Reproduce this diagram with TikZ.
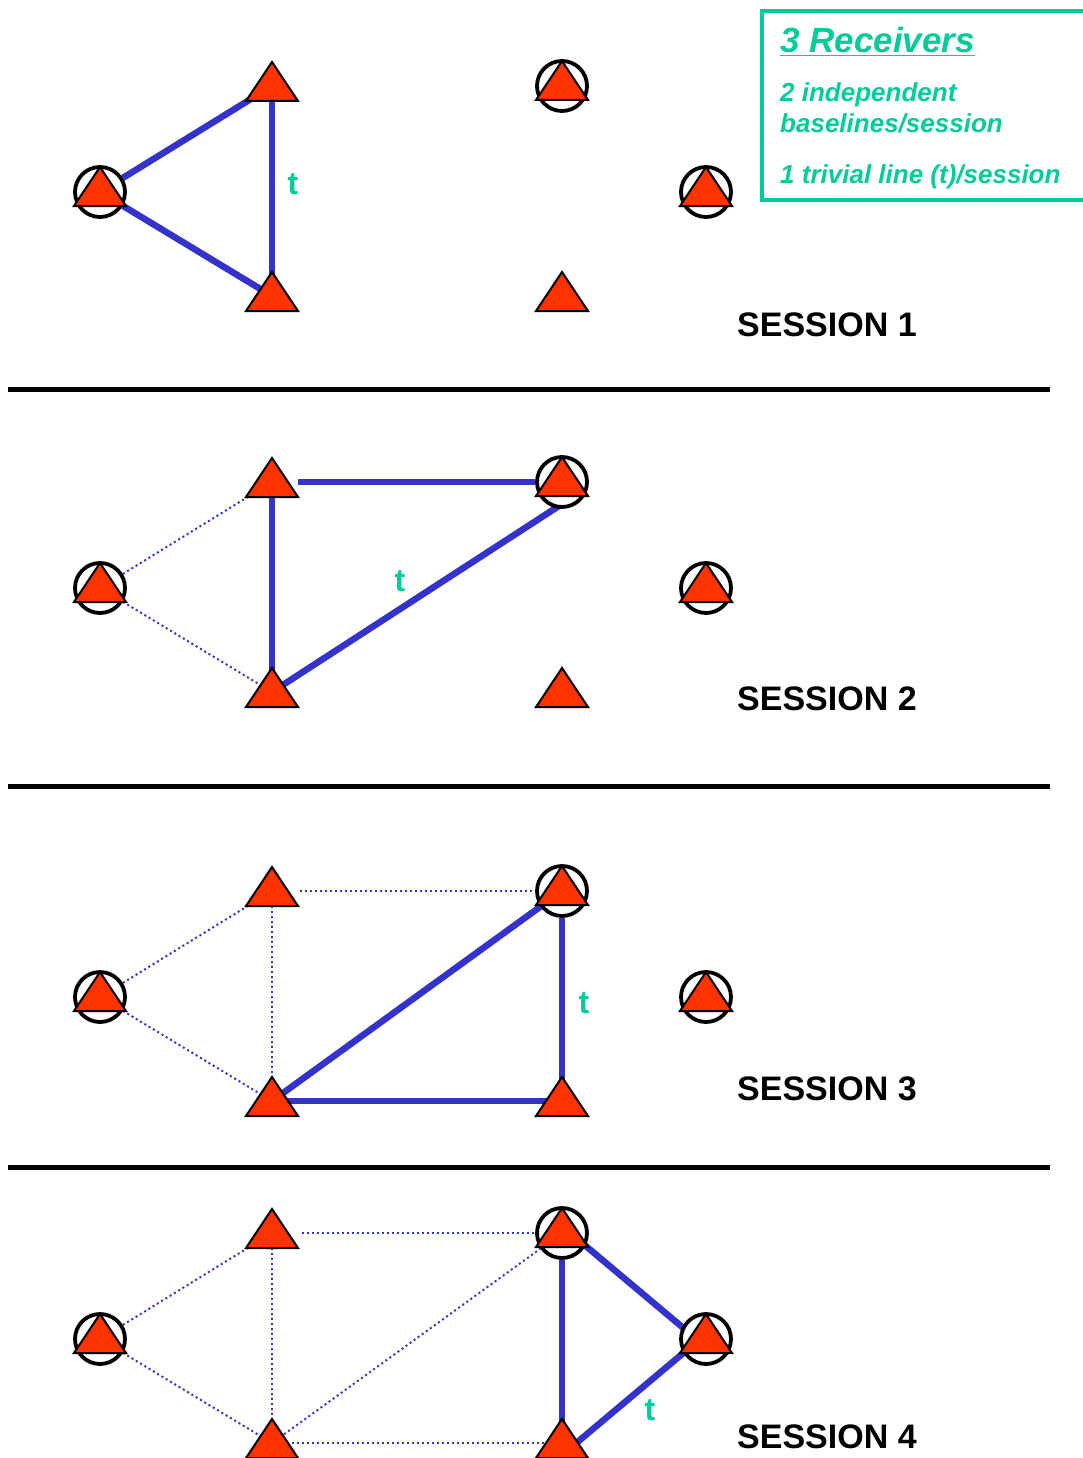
\documentclass[tikz,border=0pt]{standalone}
\usepackage{fontspec}
\setmainfont{Liberation Sans}
\usetikzlibrary{calc}
\pgfdeclarelayer{bg}
\pgfsetlayers{bg,main}
\definecolor{tred}{RGB}{255,51,0}
\definecolor{lblue}{RGB}{51,51,204}
\definecolor{tgreen}{RGB}{0,204,153}
\tikzset{
  trist/.style={fill=tred, draw=black, line width=2pt, line join=miter},
  ring/.style={circle, draw=black, fill=white, line width=3.8pt, minimum size=50pt, inner sep=0pt},
  solidln/.style={draw=lblue, line width=6.5pt},
  dotln/.style={draw=lblue, line width=2pt, dash pattern=on 2pt off 3pt},
  tlbl/.style={text=tgreen, font=\bfseries\fontsize{32}{36}\selectfont, inner sep=0pt, anchor=base},
  sess/.style={font=\bfseries\fontsize{34}{40}\selectfont, anchor=base west, inner sep=0pt},
  infotxt/.style={text=tgreen, font=\bfseries\itshape\fontsize{26}{30}\selectfont, anchor=base west, inner sep=0pt},
  sepline/.style={line width=5pt, draw=black},
}
\newcommand\plainst[2]{%
  \coordinate (#1) at #2;
  \draw[trist] ($(#1)+(-26,15)$) -- ($(#1)+(26,15)$) -- ($(#1)+(0,-24)$) -- cycle;}
\newcommand\ringst[2]{%
  \node[ring] (#1) at #2 {};
  \draw[trist] ($(#1)+(-26,14)$) -- ($(#1)+(26,14)$) -- ($(#1)+(0,-25)$) -- cycle;}
\newcommand\stations[2]{%
  \ringst{#1L}{(100,192+#2)}
  \plainst{#1TL}{(272,86+#2)}
  \plainst{#1BL}{(272,296+#2)}
  \ringst{#1TR}{(562,86+#2)}
  \ringst{#1R}{(706,192+#2)}
  \plainst{#1BR}{(562,296+#2)}}
\begin{document}
\begin{tikzpicture}[x=1pt,y=-1pt]
\useasboundingbox (0,0) rectangle (1083,1458);
% stations
\stations{a}{0}
\stations{b}{396}
\stations{c}{805}
\stations{d}{1147}
% separators
\coordinate (sep1a) at (8,389.5); \coordinate (sep1b) at (1050,389.5);
\coordinate (sep2a) at (8,786);   \coordinate (sep2b) at (1050,786);
\coordinate (sep3a) at (8,1167);  \coordinate (sep3b) at (1050,1167);
\draw[sepline] (sep1a) -- (sep1b);
\draw[sepline] (sep2a) -- (sep2b);
\draw[sepline] (sep3a) -- (sep3b);
% connectors
\begin{pgfonlayer}{bg}
  % session 1
  \draw[solidln] (aL) -- (aTL);
  \draw[solidln] (aL) -- (aBL);
  \draw[solidln, shorten >=4pt] (aTL) -- (aBL);
  % session 2
  \draw[dotln] (bL) -- (bTL);
  \draw[dotln] (bL) -- (bBL);
  \draw[solidln, shorten <=26pt] (bTL) -- (bTR);
  \draw[solidln] (bTL) -- (bBL);
  \draw[solidln] ($(bTR)+(0,22)$) -- (bBL);
  % session 3
  \draw[dotln] (cL) -- (cTL);
  \draw[dotln] (cL) -- (cBL);
  \draw[dotln, shorten <=28pt] (cTL) -- (cTR);
  \draw[dotln] (cTL) -- (cBL);
  \draw[solidln] (cTR) -- (cBL);
  \draw[solidln] (cBL) -- (cBR);
  \draw[solidln] (cTR) -- (cBR);
  % session 4
  \draw[dotln] (dL) -- (dTL);
  \draw[dotln] (dL) -- (dBL);
  \draw[dotln, shorten <=30pt] (dTL) -- (dTR);
  \draw[dotln] (dTL) -- (dBL);
  \draw[dotln] (dBL) -- (dTR);
  \draw[dotln] (dBL) -- (dBR);
  \draw[solidln] (dTR) -- (dBR);
  \draw[solidln] ($(dTR)+(0,-7)$) -- ($(dR)+(0,8)$);
  \draw[solidln] ($(dR)+(0,-5)$) -- ($(dBR)+(0,12)$);
\end{pgfonlayer}
% trivial line labels
\node[tlbl] (ta) at (293,195) {t};
\node[tlbl] (tb) at (400,591) {t};
\node[tlbl] (tc) at (584,1013) {t};
\node[tlbl] (td) at (650,1420) {t};
% session labels
\node[sess] (s1) at (737,336) {SESSION 1};
\node[sess] (s2) at (737,710) {SESSION 2};
\node[sess] (s3) at (737,1100) {SESSION 3};
\node[sess] (s4) at (737,1448) {SESSION 4};
% info box
\node[draw=tgreen, line width=3.5pt, anchor=north west, minimum width=345pt, minimum height=189pt, inner sep=0pt] (infobox) at (760,9.5) {};
\node[infotxt, font=\bfseries\itshape\fontsize{35}{40}\selectfont] (title) at (780,53) {\underline{3 Receivers}};
\node[infotxt] (i1) at (780,102) {2 independent};
\node[infotxt] (i2) at (780,133) {baselines/session};
\node[infotxt] (i3) at (780,183) {1 trivial line (t)/session};
\end{tikzpicture}
\end{document}
